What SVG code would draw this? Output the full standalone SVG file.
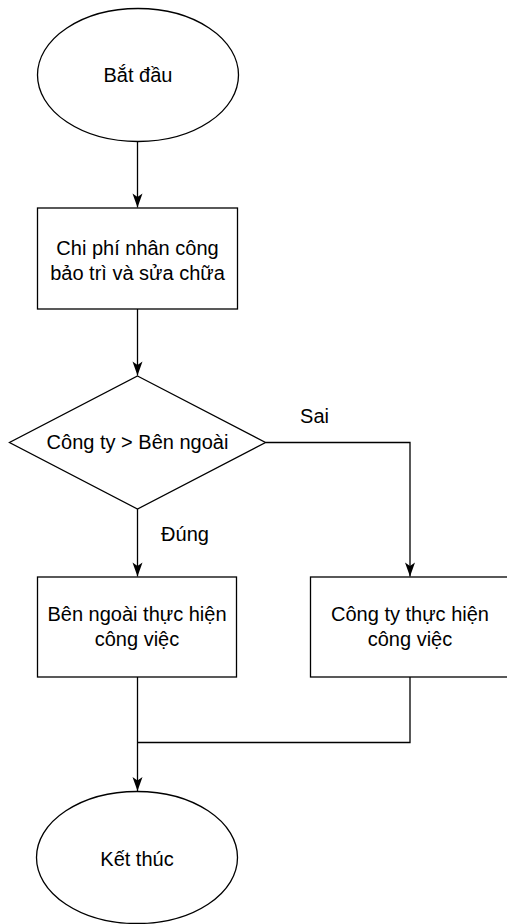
<svg xmlns="http://www.w3.org/2000/svg" width="507" height="924" viewBox="0 0 507 924">
<style>
.shape{fill:#fff;stroke:#000;stroke-width:1.3}
.edge{fill:none;stroke:#000;stroke-width:1.3}
text{font-family:"Liberation Sans",Arial,sans-serif;font-size:20px;fill:#000;text-anchor:middle}
</style>
<defs>
<marker id="arr" markerUnits="userSpaceOnUse" markerWidth="16" markerHeight="12" viewBox="-15 -6 16 12" refX="0" refY="0" orient="auto">
<path d="M0,0 L-14,-5 L-10.5,0 L-14,5 Z" fill="#000"/>
</marker>
</defs>
<g id="connectors">
<path class="edge" d="M137.5,141.5 V207.5" marker-end="url(#arr)"/>
<path class="edge" d="M137.5,309 V375.5" marker-end="url(#arr)"/>
<path class="edge" d="M137.5,509 V576.5" marker-end="url(#arr)"/>
<path class="edge" d="M265.5,442.5 H410 V576.5" marker-end="url(#arr)"/>
<path class="edge" d="M137.5,677 V791" marker-end="url(#arr)"/>
<path class="edge" d="M410,677 V742.5 H137.5"/>
<text x="314.5" y="423">Sai</text>
<text x="185" y="541">Đúng</text>
</g>
<g id="start">
<ellipse class="shape" cx="138" cy="75" rx="100.5" ry="66.5"/>
<text x="138" y="82">Bắt đầu</text>
</g>
<g id="cost">
<rect class="shape" x="37.5" y="208" width="200" height="101"/>
<text x="137.5" y="255">Chi phí nhân công</text>
<text x="137.5" y="280">bảo trì và sửa chữa</text>
</g>
<g id="decision">
<polygon class="shape" points="137.5,376 265.5,442.5 137.5,509 9.5,442.5"/>
<text x="137.5" y="449">Công ty &gt; Bên ngoài</text>
</g>
<g id="external">
<rect class="shape" x="37.5" y="577" width="199" height="100"/>
<text x="137" y="621">Bên ngoài thực hiện</text>
<text x="137" y="646">công việc</text>
</g>
<g id="company">
<rect class="shape" x="310.5" y="577" width="199" height="100"/>
<text x="410" y="621">Công ty thực hiện</text>
<text x="410" y="646">công việc</text>
</g>
<g id="end">
<ellipse class="shape" cx="137" cy="857.5" rx="100.5" ry="66"/>
<text x="137" y="866">Kết thúc</text>
</g>
</svg>
